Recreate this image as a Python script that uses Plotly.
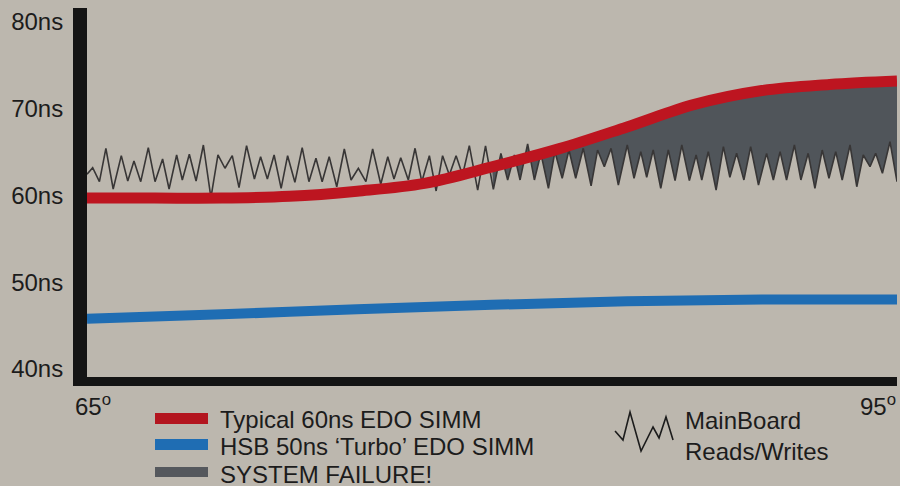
import plotly.graph_objects as go

# temperature (deg) vs access time (ns)
red_deg = [65, 67.5, 70, 72.5, 75, 77.5, 80, 82.5, 85, 87.5, 90, 92.5, 95]
red_ns = [59.7, 59.7, 59.7, 59.9, 60.5, 61.4, 63.3, 65.4, 67.9, 70.5, 72.1, 72.8, 73.2]

blue_deg = [65, 70, 75, 80, 85, 90, 95]
blue_ns = [45.8, 46.3, 46.9, 47.4, 47.8, 48.0, 48.0]

# mainboard reads/writes zigzag
zig_deg = [65.00, 65.21, 65.46, 65.70, 65.97, 66.27, 66.51, 66.74, 66.99, 67.27,
           67.52, 67.80, 68.04, 68.32, 68.53, 68.79, 69.04, 69.31, 69.59, 69.85,
           70.11, 70.38, 70.63, 70.91, 71.20, 71.43, 71.68, 71.93, 72.19, 72.43,
           72.70, 72.97, 73.22, 73.48, 73.71, 73.97, 74.25, 74.53, 74.78, 75.05,
           75.33, 75.58, 75.88, 76.14, 76.37, 76.62, 76.90, 77.15, 77.40, 77.68,
           77.93, 78.17, 78.42, 78.67, 78.91, 79.16, 79.47, 79.76, 80.05, 80.33,
           80.58, 80.83, 81.04, 81.32, 81.57, 81.81, 82.09, 82.33, 82.60, 82.85,
           83.10, 83.38, 83.67, 83.91, 84.16, 84.41, 84.68, 85.01, 85.26, 85.51,
           85.73, 85.97, 86.25, 86.53, 86.78, 87.03, 87.31, 87.56, 87.77, 88.01,
           88.30, 88.57, 88.81, 89.06, 89.33, 89.58, 89.87, 90.17, 90.42, 90.67,
           90.91, 91.20, 91.44, 91.71, 91.96, 92.23, 92.48, 92.73, 92.97, 93.26,
           93.51, 93.75, 94.00, 94.21, 94.46, 94.74, 95.00]
zig_ns = [62.44, 63.20, 61.59, 65.44, 60.75, 64.59, 61.67, 63.98, 61.59, 65.51,
          61.59, 64.21, 60.75, 64.67, 61.79, 64.75, 61.67, 65.82, 59.75, 64.67,
          63.14, 64.59, 60.90, 65.74, 61.90, 64.47, 61.90, 64.67, 60.83, 64.59,
          61.52, 65.51, 61.59, 64.29, 61.59, 64.47, 61.01, 65.36, 61.79, 63.14,
          61.59, 65.36, 61.29, 64.47, 61.90, 64.36, 61.79, 65.44, 61.59, 64.59,
          60.52, 64.59, 62.36, 64.59, 62.36, 65.74, 60.63, 65.71, 60.71, 64.86,
          61.79, 64.67, 61.79, 65.94, 61.79, 64.86, 60.83, 65.05, 61.98, 65.24,
          61.98, 65.44, 61.10, 65.24, 63.32, 65.44, 61.21, 65.82, 61.98, 65.05,
          62.10, 65.24, 60.83, 65.24, 61.71, 65.82, 61.71, 64.67, 61.79, 65.05,
          60.63, 65.63, 62.10, 64.86, 61.79, 65.63, 61.21, 64.86, 61.79, 65.05,
          61.79, 65.82, 61.79, 64.86, 60.83, 65.24, 61.98, 65.05, 61.79, 65.82,
          61.01, 64.67, 63.32, 64.86, 62.56, 66.20, 61.59]

tick_vals = [40, 50, 60, 70, 80]
tick_text = ['40ns', '50ns', '60ns', '70ns', '80ns']

BG = 'rgb(188,183,174)'
RED = '#bd1520'
BLUE = '#1f6db3'
GREY = '#50555a'
INK = '#1c1c1c'
FONT = 'Liberation Sans, Arial, sans-serif'

fail_from = 6      # red knot where the failure zone starts (80 deg)
zig_from = 58      # matching zigzag point

fig = go.Figure()

# failure zone: fill between red curve and the zigzag
fig.add_trace(go.Scatter(x=red_deg[fail_from:], y=red_ns[fail_from:], mode='lines',
                         line=dict(width=0, shape='spline', color=RED),
                         hoverinfo='skip', showlegend=False))
fig.add_trace(go.Scatter(x=zig_deg[zig_from:], y=zig_ns[zig_from:], mode='lines',
                         line=dict(width=0), fill='tonexty', fillcolor=GREY,
                         hoverinfo='skip', showlegend=False))

fig.add_trace(go.Scatter(x=zig_deg, y=zig_ns, mode='lines',
                         line=dict(width=1.6, color='#383636'),
                         name='MainBoard Reads/Writes', showlegend=False))
fig.add_trace(go.Scatter(x=blue_deg, y=blue_ns, mode='lines',
                         line=dict(width=10, color=BLUE, shape='spline'),
                         name="HSB 50ns 'Turbo' EDO SIMM", showlegend=False))
fig.add_trace(go.Scatter(x=red_deg, y=red_ns, mode='lines',
                         line=dict(width=11, color=RED, shape='spline'),
                         name='Typical 60ns EDO SIMM', showlegend=False))

# pixel -> paper helpers for the hand-made legend
L, R, T, B = 87, 897, 8, 377


def px(x):
    return (x - L) / (R - L)


def py(y):
    return (B - y) / (B - T)


shapes = []
for y0, y1, col in [(413, 424, '#b3151f'), (439, 450, BLUE), (467, 477, '#55585d')]:
    shapes.append(dict(type='rect', xref='paper', yref='paper',
                       x0=px(155), x1=px(208), y0=py(y1), y1=py(y0),
                       fillcolor=col, line=dict(width=0)))

icon = [(615, 431), (623, 440), (630, 412), (641, 451), (653, 427), (659, 438),
        (666, 417), (673, 440)]
path = 'M ' + ' L '.join(f'{px(a):.4f},{py(b):.4f}' for a, b in icon)
shapes.append(dict(type='path', xref='paper', yref='paper', path=path,
                   line=dict(color=INK, width=1.6)))

annotations = [
    dict(text='65<sup>o</sup>', x=px(73), y=py(405), xanchor='left'),
    dict(text='95<sup>o</sup>', x=px(898), y=py(405), xanchor='right'),
    dict(text='Typical 60ns EDO SIMM', x=px(218), y=py(419.5), xanchor='left'),
    dict(text='HSB 50ns \u2018Turbo\u2019 EDO SIMM', x=px(218), y=py(447), xanchor='left'),
    dict(text='SYSTEM FAILURE!', x=px(218), y=py(474), xanchor='left'),
    dict(text='MainBoard<br>Reads/Writes', x=px(683), y=py(436), xanchor='left', align='left'),
]
for a in annotations:
    a.update(xref='paper', yref='paper', yanchor='middle', showarrow=False,
             font=dict(size=24, color=INK, family=FONT))

fig.update_layout(
    width=900, height=486,
    margin=dict(l=L, r=900 - R, t=T, b=486 - B),
    paper_bgcolor=BG, plot_bgcolor=BG,
    font=dict(family=FONT, size=24, color=INK),
    shapes=shapes, annotations=annotations,
    showlegend=False,
)
fig.update_xaxes(range=[65, 95], showgrid=False, zeroline=False,
                 showticklabels=False, ticks='',
                 showline=True, linewidth=9, linecolor='#141414')
fig.update_yaxes(range=[39.08, 81.61], showgrid=False, zeroline=False,
                 tickvals=tick_vals, ticktext=tick_text, ticks='',
                 ticklabelstandoff=5,
                 showline=True, linewidth=14, linecolor='#141414')

# page margin would push the 900x486 figure off the window
fig.write_html('out.html', config={'displayModeBar': False},
               post_script="document.body.style.margin='0';")
